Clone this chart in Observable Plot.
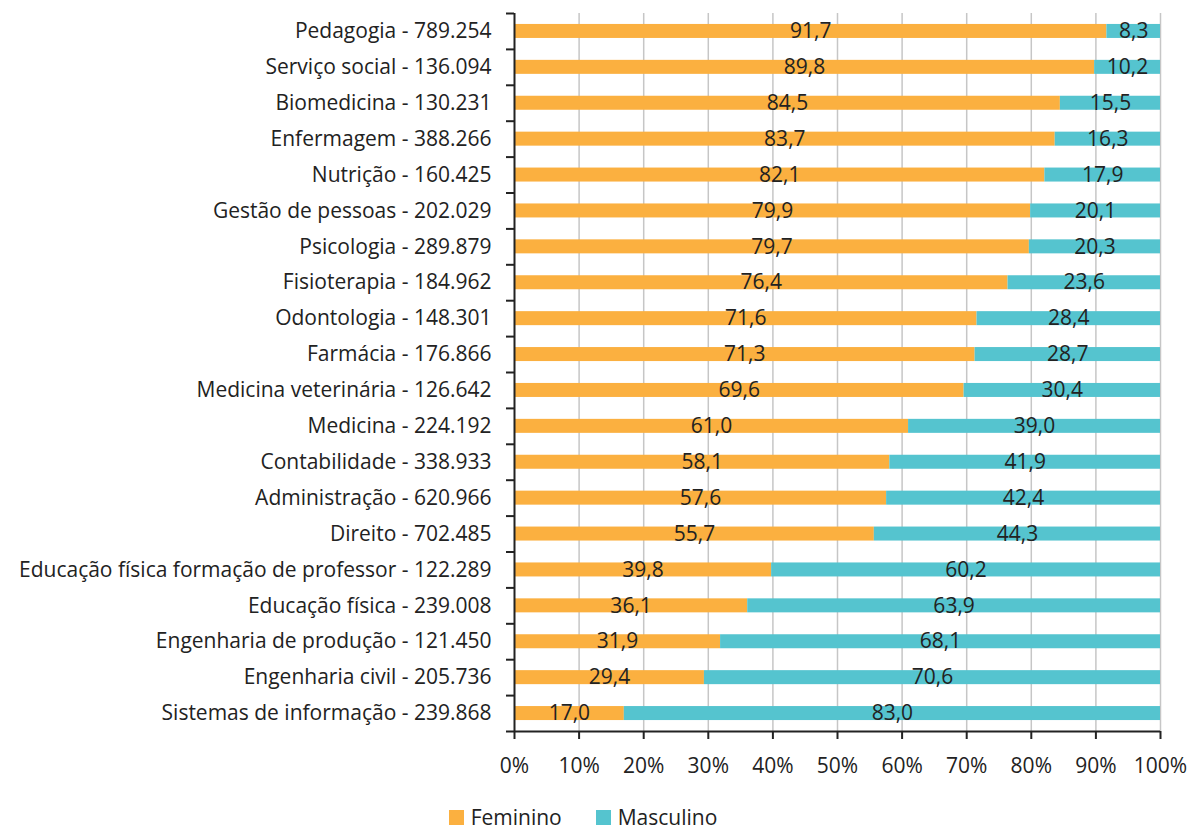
<!DOCTYPE html>
<html>
<head>
<meta charset="utf-8">
<script src="https://cdn.jsdelivr.net/npm/d3@7"></script>
<script src="https://cdn.jsdelivr.net/npm/@observablehq/plot@0.6"></script>
<style>
  body { margin: 0; background: #fff; font-family: "Open Sans", "Noto Sans", sans-serif; }
  #legend { display: flex; justify-content: center; gap: 34px; font-size: 21px; line-height: 24px; color: #222; margin-top: 10px; padding-right: 21px; }
  #legend span.item { display: flex; align-items: center; gap: 7px; }
  #legend span.sw { width: 15px; height: 15px; display: inline-block; }
</style>
</head>
<body>
<div id="chart"></div>
<div id="legend"></div>
<script>
const categories = [
  "Pedagogia - 789.254",
  "Serviço social - 136.094",
  "Biomedicina - 130.231",
  "Enfermagem - 388.266",
  "Nutrição - 160.425",
  "Gestão de pessoas - 202.029",
  "Psicologia - 289.879",
  "Fisioterapia - 184.962",
  "Odontologia - 148.301",
  "Farmácia - 176.866",
  "Medicina veterinária - 126.642",
  "Medicina - 224.192",
  "Contabilidade - 338.933",
  "Administração - 620.966",
  "Direito - 702.485",
  "Educação física formação de professor - 122.289",
  "Educação física - 239.008",
  "Engenharia de produção - 121.450",
  "Engenharia civil - 205.736",
  "Sistemas de informação - 239.868"
];
const feminino = [91.7, 89.8, 84.5, 83.7, 82.1, 79.9, 79.7, 76.4, 71.6, 71.3, 69.6, 61.0, 58.1, 57.6, 55.7, 39.8, 36.1, 31.9, 29.4, 17.0];
const masculino = [8.3, 10.2, 15.5, 16.3, 17.9, 20.1, 20.3, 23.6, 28.4, 28.7, 30.4, 39.0, 41.9, 42.4, 44.3, 60.2, 63.9, 68.1, 70.6, 83.0];
const series = ["Feminino", "Masculino"];
const colors = ["#FBB040", "#55C4CF"];
const xTicks = [0, 10, 20, 30, 40, 50, 60, 70, 80, 90, 100];

const data = [];
categories.forEach((c, i) => {
  data.push({cat: c, sex: "Feminino", value: feminino[i]});
  data.push({cat: c, sex: "Masculino", value: masculino[i]});
});

const W = 1187, H = 795;
const mTop = 13, mBottom = 64, mLeft = 514, mRight = 27;
const step = (H - mTop - mBottom) / categories.length;
const tickLen = 8 * 100 / (W - mLeft - mRight);
const fmt = v => v.toFixed(1).replace(".", ",");
const ink = "#222";
const FS = 21;

const plot = Plot.plot({
  width: W,
  height: H,
  marginTop: mTop,
  marginBottom: mBottom,
  marginLeft: mLeft,
  marginRight: mRight,
  style: { fontFamily: "'Open Sans', 'Noto Sans', sans-serif", fontSize: FS + "px", color: ink, background: "#fff" },
  x: { domain: [0, 100] },
  y: { domain: categories, paddingInner: 0.61, paddingOuter: 0.305, round: false },
  color: { domain: series, range: colors },
  marks: [
    Plot.ruleX(xTicks.slice(1), { stroke: "#c6c6c6", strokeWidth: 1.5 }),
    Plot.barX(data, Plot.stackX({ x: "value", y: "cat", fill: "sex", order: series })),
    Plot.text(data, Plot.stackX({ x: "value", y: "cat", z: "sex", order: series, text: d => fmt(d.value), fill: ink, fontSize: FS })),
    Plot.ruleX([0], { stroke: ink, strokeWidth: 2 }),
    Plot.ruleY(categories, { y: d => d, x1: -tickLen, x2: 0, dy: -step / 2, stroke: ink, strokeWidth: 2 }),
    Plot.ruleY(categories.slice(-1), { y: d => d, x1: -tickLen, x2: 100, dy: step / 2, stroke: ink, strokeWidth: 2 }),
    Plot.axisY({ tickSize: 0, tickPadding: 23, label: null, fontSize: FS }),
    Plot.axisX({ ticks: xTicks, tickSize: 8, tickPadding: 19, tickFormat: d => d + "%", label: null, stroke: ink, strokeWidth: 2, fontSize: FS })
  ]
});
document.getElementById("chart").appendChild(plot);

const legend = document.getElementById("legend");
series.forEach((s, i) => {
  const item = document.createElement("span");
  item.className = "item";
  item.innerHTML = `<span class="sw" style="background:${colors[i]}"></span><span>${s}</span>`;
  legend.appendChild(item);
});
</script>
</body>
</html>
